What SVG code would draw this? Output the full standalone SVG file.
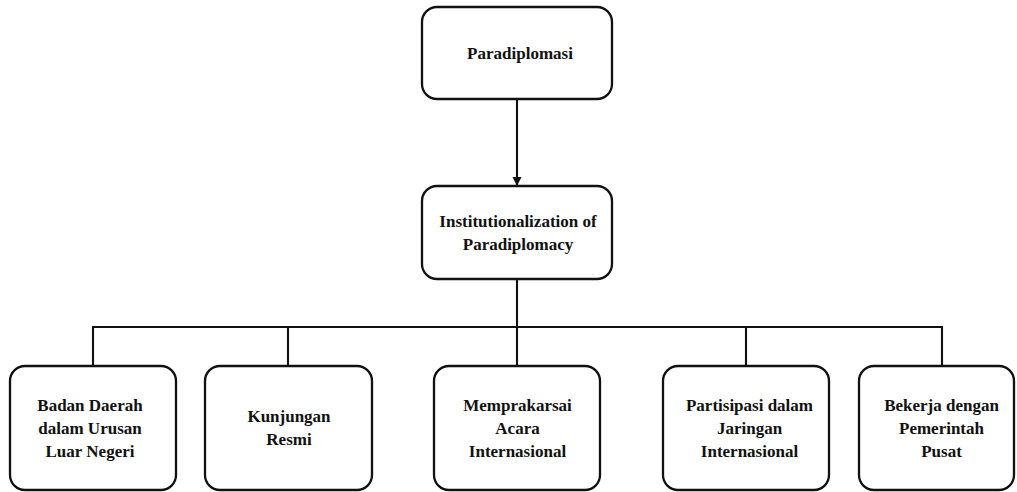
<svg xmlns="http://www.w3.org/2000/svg" width="1017" height="492" viewBox="0 0 1017 492">
<style>
.box{fill:#fff;stroke:#111;stroke-width:2.3}
.lbl{font-family:'Liberation Serif','Times New Roman','DejaVu Serif',serif;font-weight:700;font-size:17px;fill:#111;text-anchor:middle}
.con{fill:none;stroke:#111;stroke-width:2.1}
</style>
<defs>
<marker id="arr" markerWidth="10" markerHeight="10" refX="8" refY="4.5" orient="auto" markerUnits="userSpaceOnUse">
<path d="M0,0 L9,4.5 L0,9 Z" fill="#111"/>
</marker>
</defs>
<rect width="1017" height="492" fill="#fff"/>
<g id="connectors">
<line class="con" x1="517" y1="99" x2="517" y2="185" marker-end="url(#arr)"/>
<line class="con" x1="517" y1="279" x2="517" y2="327"/>
<polyline class="con" points="93,366 93,327 942,327 942,366"/>
<line class="con" x1="288" y1="327" x2="288" y2="366"/>
<line class="con" x1="517" y1="327" x2="517" y2="366"/>
<line class="con" x1="746" y1="327" x2="746" y2="366"/>
</g>
<g font-family="Liberation Serif, Times New Roman, DejaVu Serif, serif" font-weight="bold">
<g id="paradiplomasi">
<rect class="box" x="422" y="7" width="190" height="92" rx="15"/>
<text class="lbl" x="520" y="59">Paradiplomasi</text>
</g>
<g id="institutionalization">
<rect class="box" x="422" y="186" width="190" height="93" rx="15"/>
<text class="lbl" x="518" y="227">Institutionalization of</text>
<text class="lbl" x="518" y="250">Paradiplomacy</text>
</g>
<g id="badan">
<rect class="box" x="10" y="366" width="166" height="124" rx="15"/>
<text class="lbl" x="90" y="411">Badan Daerah</text>
<text class="lbl" x="90" y="434">dalam Urusan</text>
<text class="lbl" x="90" y="457">Luar Negeri</text>
</g>
<g id="kunjungan">
<rect class="box" x="205" y="366" width="167" height="124" rx="15"/>
<text class="lbl" x="289" y="422">Kunjungan</text>
<text class="lbl" x="289" y="445">Resmi</text>
</g>
<g id="memprakarsai">
<rect class="box" x="434" y="366" width="166" height="124" rx="15"/>
<text class="lbl" x="517.5" y="411">Memprakarsai</text>
<text class="lbl" x="517.5" y="434">Acara</text>
<text class="lbl" x="517.5" y="457">Internasional</text>
</g>
<g id="partisipasi">
<rect class="box" x="663" y="366" width="166" height="124" rx="15"/>
<text class="lbl" x="749.5" y="411">Partisipasi dalam</text>
<text class="lbl" x="749.5" y="434">Jaringan</text>
<text class="lbl" x="749.5" y="457">Internasional</text>
</g>
<g id="bekerja">
<rect class="box" x="859" y="366" width="155" height="124" rx="15"/>
<text class="lbl" x="941.5" y="411">Bekerja dengan</text>
<text class="lbl" x="941.5" y="434">Pemerintah</text>
<text class="lbl" x="941.5" y="457">Pusat</text>
</g>
</g>
</svg>
